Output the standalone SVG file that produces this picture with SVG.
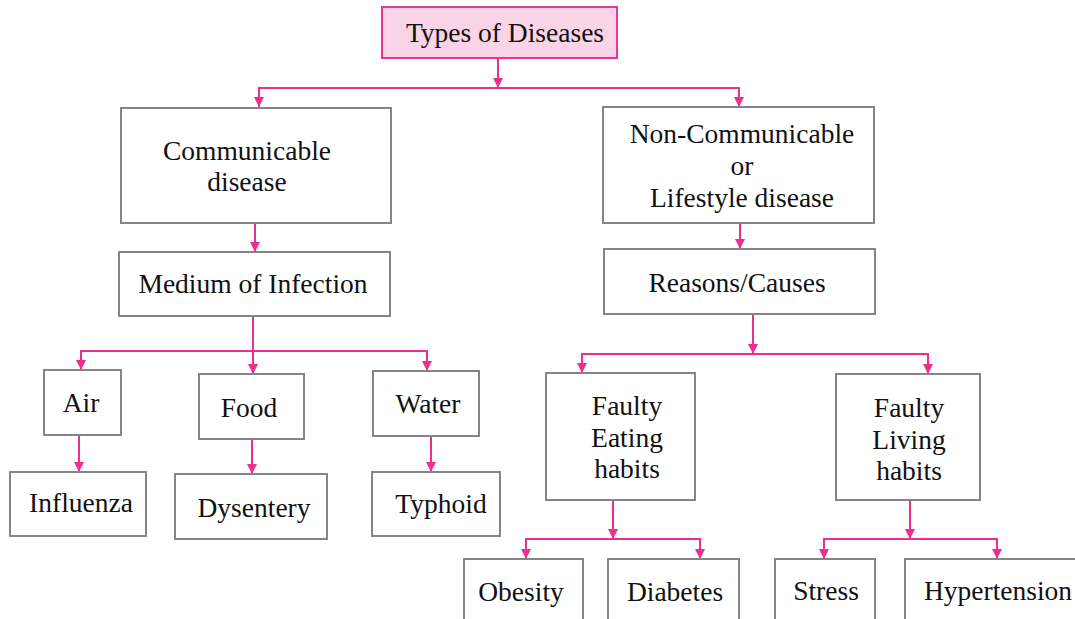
<svg xmlns="http://www.w3.org/2000/svg" width="1075" height="619" viewBox="0 0 1075 619">
<style>
.box{fill:#ffffff;stroke:#858585;stroke-width:2}
.root{fill:#f9d4e6;stroke:#e8368e;stroke-width:2}
.t{font-family:"Liberation Serif","Times New Roman",serif;font-size:27.5px;fill:#111111;text-anchor:middle}
.c{fill:none;stroke:#ec2f8f;stroke-width:2}
</style>
<defs>
<marker id="ah" markerUnits="userSpaceOnUse" markerWidth="10" markerHeight="10" viewBox="0 0 10 10" refX="10" refY="5" orient="auto">
<path d="M0,0 L10,5 L0,10 z" fill="#ec2f8f"/>
</marker>
</defs>
<rect width="1075" height="619" fill="#ffffff"/>
<g id="connectors">
<path class="c" d="M498,58 V88" marker-end="url(#ah)"/>
<path class="c" d="M498,88 H259 V107" marker-end="url(#ah)"/>
<path class="c" d="M498,88 H739 V107" marker-end="url(#ah)"/>
<path class="c" d="M255,223 V252" marker-end="url(#ah)"/>
<path class="c" d="M253,316 V374" marker-end="url(#ah)"/>
<path class="c" d="M253,351 H81 V370" marker-end="url(#ah)"/>
<path class="c" d="M253,351 H427 V371" marker-end="url(#ah)"/>
<path class="c" d="M79,435 V472" marker-end="url(#ah)"/>
<path class="c" d="M252,439 V474" marker-end="url(#ah)"/>
<path class="c" d="M431,436 V472" marker-end="url(#ah)"/>
<path class="c" d="M740,223 V249" marker-end="url(#ah)"/>
<path class="c" d="M753,314 V354" marker-end="url(#ah)"/>
<path class="c" d="M753,354 H582 V373" marker-end="url(#ah)"/>
<path class="c" d="M753,354 H928 V374" marker-end="url(#ah)"/>
<path class="c" d="M613,500 V539" marker-end="url(#ah)"/>
<path class="c" d="M613,539 H526 V559" marker-end="url(#ah)"/>
<path class="c" d="M613,539 H700 V559" marker-end="url(#ah)"/>
<path class="c" d="M910,500 V539" marker-end="url(#ah)"/>
<path class="c" d="M910,539 H824 V559" marker-end="url(#ah)"/>
<path class="c" d="M910,539 H997 V559" marker-end="url(#ah)"/>
</g>
<g id="types"><rect class="root" x="382" y="7" width="235" height="51"/><text class="t" x="505" y="42">Types of Diseases</text></g>
<g id="communicable"><rect class="box" x="121" y="108" width="270" height="115"/><text class="t" x="247" y="160">Communicable</text><text class="t" x="247" y="191">disease</text></g>
<g id="medium"><rect class="box" x="119" y="252" width="271" height="64"/><text class="t" x="253" y="293">Medium of Infection</text></g>
<g id="air"><rect class="box" x="44" y="370" width="77" height="65"/><text class="t" x="81" y="412">Air</text></g>
<g id="food"><rect class="box" x="199" y="374" width="105" height="65"/><text class="t" x="249" y="417">Food</text></g>
<g id="water"><rect class="box" x="373" y="371" width="106" height="65"/><text class="t" x="428" y="413">Water</text></g>
<g id="influenza"><rect class="box" x="10" y="472" width="136" height="64"/><text class="t" x="81" y="512">Influenza</text></g>
<g id="dysentery"><rect class="box" x="175" y="474" width="152" height="65"/><text class="t" x="254" y="517">Dysentery</text></g>
<g id="typhoid"><rect class="box" x="372" y="472" width="128" height="64"/><text class="t" x="441" y="513">Typhoid</text></g>
<g id="noncommunicable"><rect class="box" x="603" y="107" width="271" height="116"/><text class="t" x="742" y="143">Non-Communicable</text><text class="t" x="742" y="175">or</text><text class="t" x="742" y="207">Lifestyle disease</text></g>
<g id="reasons"><rect class="box" x="604" y="249" width="271" height="65"/><text class="t" x="737" y="292">Reasons/Causes</text></g>
<g id="eating"><rect class="box" x="546" y="373" width="149" height="127"/><text class="t" x="627" y="415">Faulty</text><text class="t" x="627" y="447">Eating</text><text class="t" x="627" y="478">habits</text></g>
<g id="living"><rect class="box" x="836" y="374" width="144" height="126"/><text class="t" x="909" y="417">Faulty</text><text class="t" x="909" y="449">Living</text><text class="t" x="909" y="480">habits</text></g>
<g id="obesity"><rect class="box" x="464" y="559" width="119" height="70"/><text class="t" x="521" y="601">Obesity</text></g>
<g id="diabetes"><rect class="box" x="608" y="559" width="131" height="70"/><text class="t" x="675" y="601">Diabetes</text></g>
<g id="stress"><rect class="box" x="775" y="559" width="100" height="70"/><text class="t" x="826" y="600">Stress</text></g>
<g id="hypertension"><rect class="box" x="905" y="559" width="180" height="70"/><text class="t" x="998" y="600">Hypertension</text></g>
</svg>
